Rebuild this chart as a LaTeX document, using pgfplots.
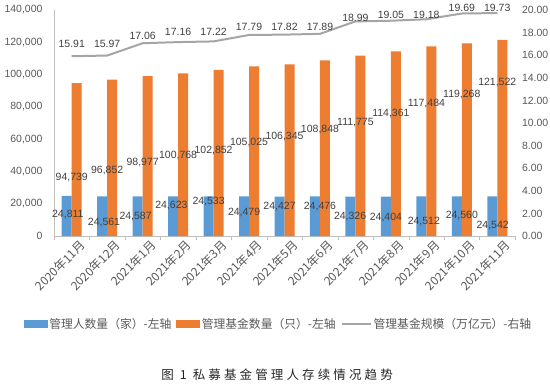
\documentclass[border=0pt]{standalone}
\usepackage{fontspec}
\setmainfont{Liberation Sans}
\newfontfamily\cjk{Noto Sans CJK SC}
\newfontfamily\cjkcap[LetterSpace=25]{Noto Sans CJK SC}
\usepackage{pgfplots}
\usepackage{pgfplotstable}
\pgfplotsset{compat=1.18}
\definecolor{cblue}{HTML}{5B9BD5}
\definecolor{corange}{HTML}{ED7D31}
\definecolor{cgray}{HTML}{A5A5A5}
\definecolor{axgray}{HTML}{BFBFBF}
\definecolor{txt}{HTML}{595959}
\definecolor{lbl}{HTML}{404040}

\pgfplotstableread{
x managers funds
0 24811 94739
1 24561 96852
2 24587 98977
3 24623 100768
4 24533 102852
5 24479 105025
6 24427 106345
7 24476 108848
8 24326 111775
9 24404 114361
10 24512 117484
11 24560 119268
12 24542 121522
}\bars

\pgfplotstableread{
x y label
-0.11 13010 24,811
0.91 8054 24,561
1.80 11770 24,587
2.81 18585 24,623
3.86 21063 24,533
4.86 14248 24,479
5.86 17965 24,427
7.00 17965 24,476
7.85 11770 24,326
8.86 11151 24,404
9.93 8673 24,512
11.00 12390 24,560
11.87 6195 24,542
}\bluelab

\pgfplotstableread{
x y label
0 35931 94,739
1 40267 96,852
2 45223 98,977
3 49558 100,768
4 52655 102,852
5 57611 105,025
6 61328 106,345
7 65665 108,848
8 70000 111,775
9 75575 114,361
10 81772 117,484
11 87347 119,268
12 94780 121,522
}\orangelab

\pgfplotstableread{
x scale
0 15.91
1 15.97
2 17.06
3 17.16
4 17.22
5 17.79
6 17.82
7 17.89
8 18.99
9 19.05
10 19.18
11 19.69
12 19.73
}\scaledata

\pgfplotstableread{
x y label
0 16.99 15.91
1 16.99 15.97
2 17.70 17.06
3 18.05 17.16
4 18.05 17.22
5 18.50 17.79
6 18.50 17.82
7 18.50 17.89
8 19.29 18.99
9 19.56 19.05
10 19.56 19.18
11 20.18 19.69
12 20.18 19.73
}\scalelab

\begin{document}
\begin{tikzpicture}
\path[use as bounding box] (-54bp,-148bp) rectangle (496bp,236bp);
\begin{axis}[
  scale only axis, width=461bp, height=226bp,
  clip=false,
  xmin=-0.5, xmax=12.5, ymin=0, ymax=140000,
  axis x line*=bottom, axis y line*=left,
  x axis line style={-, draw=axgray},
  y axis line style={-, draw=axgray},
  xtick={-0.5,0.5,...,12.5},
  x tick label as interval,
  xticklabels={2020年11月,2020年12月,2021年1月,2021年2月,2021年3月,2021年4月,2021年5月,2021年6月,2021年7月,2021年8月,2021年9月,2021年10月,2021年11月},
  xtick style={draw=axgray},
  tick align=outside,
  major tick length=4bp,
  xticklabel style={font=\cjk\fontsize{12bp}{14bp}\selectfont, text=txt, rotate=45, anchor=east, xshift=9bp, yshift=-10bp},
  ytick={0,20000,...,140000},
  scaled y ticks=false,
  ytick style={draw=none},
  yticklabel style={font=\fontsize{10.5bp}{12bp}\selectfont, text=txt, xshift=-4bp},
  /pgf/number format/fixed,
  /pgf/number format/1000 sep={,},
  /pgf/number format/assume math mode=true,
]
\addplot[ybar, bar width=10bp, bar shift=-5bp, fill=cblue, draw=none] table[x=x, y=managers] {\bars};
\addplot[ybar, bar width=10bp, bar shift=5bp, fill=corange, draw=none] table[x=x, y=funds] {\bars};
\addplot[draw=none, mark=none, nodes near coords, point meta=explicit symbolic,
  every node near coord/.append style={anchor=center, font=\fontsize{10.5bp}{12bp}\selectfont, text=lbl}]
  table[x=x, y=y, meta=label] {\bluelab};
\addplot[draw=none, mark=none, nodes near coords, point meta=explicit symbolic,
  every node near coord/.append style={anchor=center, font=\fontsize{10.5bp}{12bp}\selectfont, text=lbl}]
  table[x=x, y=y, meta=label] {\orangelab};
\end{axis}
\begin{axis}[
  scale only axis, width=461bp, height=226bp,
  clip=false,
  xmin=-0.5, xmax=12.5, ymin=0, ymax=20,
  hide x axis,
  axis y line*=right,
  y axis line style={draw=none},
  ytick={0,2,...,20},
  ytick style={draw=none},
  yticklabel style={font=\fontsize{10.5bp}{12bp}\selectfont, text=txt, xshift=3.5bp,
    /pgf/number format/.cd, fixed, fixed zerofill, precision=2, assume math mode=true},
  legend columns=3,
  legend style={at={(0.487,-0.389)}, anchor=center, draw=none, fill=none,
    font=\cjk\fontsize{11.8bp}{13bp}\selectfont, text=txt,
    /tikz/every even column/.append style={column sep=3bp}},
  legend cell align=left,
]
\addlegendimage{legend image code/.code={\fill[cblue] (0bp,-3.5bp) rectangle (23bp,3.5bp);}}
\addlegendentry{管理人数量（家）-左轴}
\addlegendimage{legend image code/.code={\fill[corange] (0bp,-3.5bp) rectangle (23bp,3.5bp);}}
\addlegendentry{管理基金数量（只）-左轴}
\addlegendimage{legend image code/.code={\draw[cgray, line width=2bp] (0bp,0bp) -- (29bp,0bp);}}
\addlegendentry{管理基金规模（万亿元）-右轴}
\addplot[cgray, line width=2bp, mark=none, forget plot] table[x=x, y=scale] {\scaledata};
\addplot[draw=none, mark=none, forget plot, nodes near coords, point meta=explicit symbolic,
  every node near coord/.append style={anchor=center, font=\fontsize{10.5bp}{12bp}\selectfont, text=lbl}]
  table[x=x, y=y, meta=label] {\scalelab};
\node[font=\cjkcap\fontsize{12.5bp}{14bp}\selectfont, text=black!85] at (axis description cs:0.484,-0.615) {图 1 私募基金管理人存续情况趋势};
\end{axis}
\end{tikzpicture}
\end{document}
